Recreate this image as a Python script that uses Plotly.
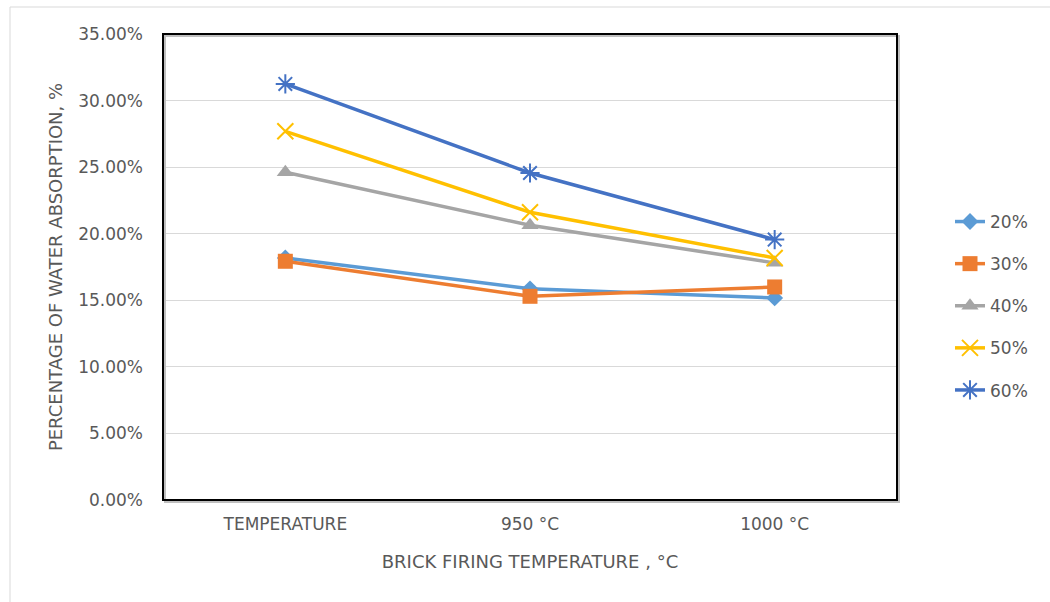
import plotly.graph_objects as go

categories = ["TEMPERATURE", "950 °C", "1000 °C"]
series_names = ["20%", "30%", "40%", "50%", "60%"]
s20 = [0.1818, 0.1586, 0.1518]
s30 = [0.1793, 0.1530, 0.1600]
s40 = [0.2462, 0.2063, 0.1781]
s50 = [0.2769, 0.2161, 0.1818]
s60 = [0.3125, 0.2456, 0.1956]
values = [s20, s30, s40, s50, s60]

colors = ["#5B9BD5", "#ED7D31", "#A5A5A5", "#FFC000", "#4472C4"]
symbols = ["diamond", "square", "triangle-up", "x-thin-open", "asterisk-open"]
sizes = [13, 15, 15, 16, 16]

FONT = "Liberation Sans Narrow, Arial Narrow, DejaVu Sans, sans-serif"
DJ = "DejaVu Sans, sans-serif"
TICK_COLOR = "#595959"

fig = go.Figure()
for name, vals, c, sym, sz in zip(series_names, values, colors, symbols, sizes):
    open_sym = sym.endswith("open")
    fig.add_trace(go.Scatter(
        x=categories, y=vals, name=name, mode="lines+markers",
        legendgroup=name,
        line=dict(color=c, width=3.5),
        marker=dict(symbol=sym, size=sz, color=c,
                    line=dict(color=c, width=2 if open_sym else 0)),
    ))

L, R, T, B = 163, 153, 34, 102
W, H = 1050, 602
pw, ph = W - L - R, H - T - B

def px_x(x):
    return (x - L) / pw

def px_y(y):
    return (H - B - y) / ph

fig.update_layout(
    width=W, height=H,
    margin=dict(l=L, r=R, t=T, b=B, pad=0),
    paper_bgcolor="white", plot_bgcolor="white",
    font=dict(family=FONT, color=TICK_COLOR, size=16),
    showlegend=True,
    legend=dict(x=px_x(950), y=px_y(306), xanchor="left", yanchor="middle",
                font=dict(size=17, color=TICK_COLOR, family=DJ),
                tracegroupgap=17, itemwidth=30,
                bgcolor="rgba(0,0,0,0)"),
    xaxis=dict(type="category", range=[-0.5, 2.5], showgrid=False,
               showline=False, zeroline=False, ticks="",
               tickfont=dict(size=17, color=TICK_COLOR, family=DJ),
               ticklabelstandoff=12,
               title=dict(text="BRICK FIRING TEMPERATURE , °C",
                          font=dict(size=18, color=TICK_COLOR, family=FONT),
                          standoff=22)),
    yaxis=dict(range=[0, 0.35], dtick=0.05, tickformat=".2%",
               showgrid=True, gridcolor="#D9D9D9", gridwidth=1,
               zeroline=False, showline=False, ticks="",
               tickfont=dict(size=17, color=TICK_COLOR, family=DJ),
               ticklabelstandoff=19,
               title=dict(text="PERCENTAGE OF WATER ABSORPTION, %",
                          font=dict(size=18, color=TICK_COLOR, family=DJ),
                          standoff=10)),
    shapes=[
        # outer chart border (light gray)
        dict(type="line", xref="paper", yref="paper",
             x0=px_x(10), x1=px_x(1060), y0=px_y(7), y1=px_y(7),
             line=dict(color="#D9D9D9", width=1)),
        dict(type="line", xref="paper", yref="paper",
             x0=px_x(10), x1=px_x(10), y0=px_y(7), y1=px_y(610),
             line=dict(color="#D9D9D9", width=1)),
        # plot area shadow
        dict(type="rect", xref="paper", yref="paper",
             x0=px_x(165), x1=px_x(899), y0=px_y(502), y1=px_y(36),
             line=dict(color="#BFBFBF", width=2)),
        # plot area frame
        dict(type="rect", xref="paper", yref="paper",
             x0=0, x1=1, y0=0, y1=1,
             line=dict(color="black", width=2)),
    ],
)

fig.write_html("out.html")
